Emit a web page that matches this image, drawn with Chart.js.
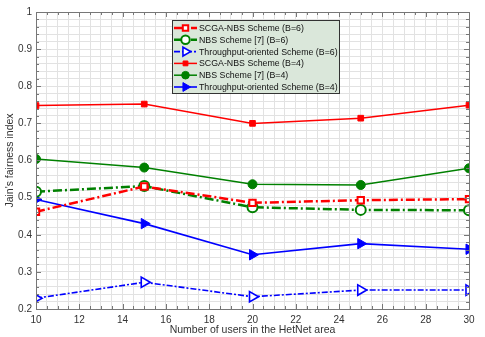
<!DOCTYPE html>
<html>
<head>
<meta charset="utf-8">
<script src="https://cdn.jsdelivr.net/npm/chart.js@4/dist/chart.umd.min.js"></script>
<style>
  html, body { margin: 0; padding: 0; background: #fff; }
  #wrap { width: 485px; height: 337px; }
</style>
</head>
<body>
<div id="wrap"><canvas id="fairChart"></canvas></div>
<script>
// number of users
const users = [10, 15, 20, 25, 30];

const scgaB6 = [0.462, 0.530, 0.486, 0.493, 0.496];
const nbsB6 = [0.516, 0.531, 0.474, 0.467, 0.466];
const thrB6 = [0.229, 0.272, 0.233, 0.251, 0.251];
const scgaB4 = [0.748, 0.752, 0.700, 0.714, 0.749];
const nbsB4 = [0.604, 0.581, 0.536, 0.534, 0.579];
const thrB4 = [0.495, 0.430, 0.346, 0.376, 0.361];

const seriesNames = [
    'SCGA-NBS Scheme (B=6)',
    'NBS Scheme [7] (B=6)',
    'Throughput-oriented Scheme (B=6)',
    'SCGA-NBS Scheme (B=4)',
    'NBS Scheme [7] (B=4)',
    'Throughput-oriented Scheme (B=4)'
];

const xMin = 10, xMax = 30, xMajor = 2, xMinor = 0.5;
const yMin = 0.2, yMax = 1, yMajor = 0.1, yMinor = 0.02;

const RED = '#ff0000', GREEN = '#008000', BLUE = '#0000ff';
const FONT = '"Liberation Sans", Arial, sans-serif';

function pts(vals) {
    return users.map((u, i) => ({x: u, y: vals[i]}));
}

function isMajor(v, step) {
    const r = v / step;
    return Math.abs(r - Math.round(r)) < 1e-6;
}

// tiny ticks inside the box + frame, matlab style
const boxPlugin = {
    id: 'boxPlugin',
    afterDatasetsDraw(chart) {
        const {ctx, chartArea: a, scales} = chart;
        ctx.save();
        ctx.strokeStyle = '#777';
        ctx.lineWidth = 1;
        ctx.beginPath();
        for (let v = xMin; v <= xMax + 1e-9; v += xMinor) {
            const x = Math.round(scales.x.getPixelForValue(v)) + 0.5;
            const len = isMajor(v - xMin, xMajor) ? 5 : 3;
            ctx.moveTo(x, a.bottom); ctx.lineTo(x, a.bottom - len);
            ctx.moveTo(x, a.top); ctx.lineTo(x, a.top + len);
        }
        for (let v = yMin; v <= yMax + 1e-9; v += yMinor) {
            const y = Math.round(scales.y.getPixelForValue(v)) + 0.5;
            const len = isMajor(v, yMajor) ? 5 : 3;
            ctx.moveTo(a.left, y); ctx.lineTo(a.left + len, y);
            ctx.moveTo(a.right, y); ctx.lineTo(a.right - len, y);
        }
        ctx.stroke();
        ctx.strokeRect(Math.round(a.left) + 0.5, Math.round(a.top) + 0.5,
            Math.round(a.right - a.left), Math.round(a.bottom - a.top));
        ctx.restore();
    },
    afterDraw(chart) {
        // legend inside the plot
        const {ctx} = chart;
        const bx = 172.5, by = 20.5, bw = 167, bh = 73;
        ctx.save();
        ctx.fillStyle = '#dae7da';
        ctx.fillRect(bx, by, bw, bh);
        ctx.strokeStyle = '#333';
        ctx.lineWidth = 1;
        ctx.strokeRect(bx, by, bw, bh);
        ctx.font = '8.8px ' + FONT;
        ctx.textBaseline = 'middle';
        chart.data.datasets.forEach((ds, i) => {
            const y = 28 + i * 11.8;
            ctx.save();
            ctx.strokeStyle = ds.borderColor;
            ctx.lineWidth = ds.borderWidth;
            ctx.setLineDash(ds.borderDash || []);
            ctx.beginPath();
            ctx.moveTo(174, y);
            ctx.lineTo(197, y);
            ctx.stroke();
            ctx.setLineDash([]);
            ctx.fillStyle = ds.pointBackgroundColor;
            ctx.lineWidth = ds.pointBorderWidth;
            Chart.helpers.drawPoint(ctx, {
                pointStyle: ds.pointStyle,
                rotation: ds.pointRotation || 0,
                radius: ds.pointRadius * 0.85,
                borderWidth: ds.pointBorderWidth
            }, 185.5, y);
            ctx.restore();
            ctx.fillStyle = '#111';
            ctx.fillText(ds.label, 199, y + 0.5);
        });
        ctx.restore();
    }
};

const datasets = [
    {label: seriesNames[0], data: pts(scgaB6), borderColor: RED, borderWidth: 2.5,
        borderDash: [9, 3, 2, 3], pointStyle: 'rect', pointRadius: 4.5,
        pointBackgroundColor: '#fff', pointBorderColor: RED, pointBorderWidth: 2},
    {label: seriesNames[1], data: pts(nbsB6), borderColor: GREEN, borderWidth: 2.5,
        borderDash: [9, 3, 2, 3], pointStyle: 'circle', pointRadius: 5,
        pointBackgroundColor: '#fff', pointBorderColor: GREEN, pointBorderWidth: 2},
    {label: seriesNames[2], data: pts(thrB6), borderColor: BLUE, borderWidth: 1.6,
        borderDash: [6, 2, 2, 2], pointStyle: 'triangle', pointRotation: 90, pointRadius: 6,
        pointBackgroundColor: '#fff', pointBorderColor: BLUE, pointBorderWidth: 1.6},
    {label: seriesNames[3], data: pts(scgaB4), borderColor: RED, borderWidth: 1.5,
        pointStyle: 'rect', pointRadius: 4,
        pointBackgroundColor: RED, pointBorderColor: RED, pointBorderWidth: 1},
    {label: seriesNames[4], data: pts(nbsB4), borderColor: GREEN, borderWidth: 1.5,
        pointStyle: 'circle', pointRadius: 4.5,
        pointBackgroundColor: GREEN, pointBorderColor: GREEN, pointBorderWidth: 1},
    {label: seriesNames[5], data: pts(thrB4), borderColor: BLUE, borderWidth: 1.6,
        pointStyle: 'triangle', pointRotation: 90, pointRadius: 6,
        pointBackgroundColor: BLUE, pointBorderColor: BLUE, pointBorderWidth: 1}
];

const ctx = document.getElementById('fairChart').getContext('2d');
new Chart(ctx, {
    type: 'line',
    data: {datasets},
    options: {
        responsive: true,
        maintainAspectRatio: false,
        animation: false,
        layout: {padding: {top: 12, right: 16, left: 0, bottom: 0}},
        plugins: {
            legend: {display: false},
            tooltip: {enabled: false}
        },
        elements: {line: {tension: 0}},
        scales: {
            x: {
                type: 'linear',
                min: xMin,
                max: xMax,
                afterFit(scale) { scale.height = 28; },
                afterBuildTicks(scale) {
                    const t = [];
                    for (let v = xMin; v <= xMax + 1e-9; v += xMinor) t.push({value: v});
                    scale.ticks = t;
                },
                border: {display: false},
                grid: {color: '#e2e2e2', borderDash: [1, 2], drawTicks: false, lineWidth: 1},
                ticks: {
                    autoSkip: false,
                    maxRotation: 0,
                    padding: 5,
                    color: '#333',
                    font: {family: FONT, size: 10},
                    callback: v => isMajor(v - xMin, xMajor) ? String(v) : ''
                },
                title: {
                    display: true,
                    text: 'Number of users in the HetNet area',
                    color: '#333',
                    font: {family: FONT, size: 10.5},
                    padding: {top: 0, bottom: 1}
                }
            },
            y: {
                min: yMin,
                max: yMax,
                afterFit(scale) { scale.width = 36; },
                afterBuildTicks(scale) {
                    const t = [];
                    for (let k = 0; k <= 40; k++) t.push({value: +(yMin + k * yMinor).toFixed(2)});
                    scale.ticks = t;
                },
                border: {display: false},
                grid: {color: '#e2e2e2', borderDash: [1, 2], drawTicks: false, lineWidth: 1},
                ticks: {
                    autoSkip: false,
                    padding: 4,
                    color: '#333',
                    font: {family: FONT, size: 10},
                    callback: v => isMajor(v, yMajor) ? String(+v.toFixed(1)) : ''
                },
                title: {
                    display: true,
                    text: "Jain's fairness index",
                    color: '#333',
                    font: {family: FONT, size: 10.5},
                    padding: {top: 4, bottom: 0}
                }
            }
        }
    },
    plugins: [boxPlugin]
});
</script>
</body>
</html>
